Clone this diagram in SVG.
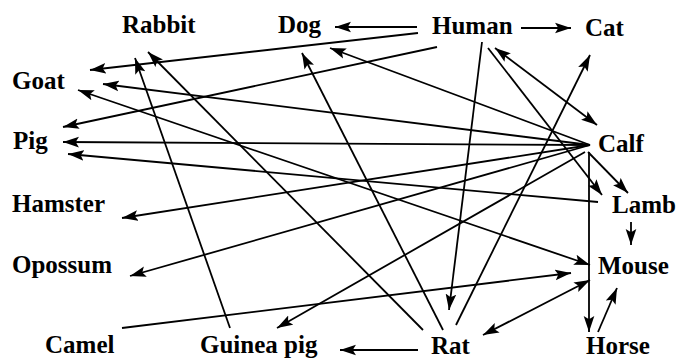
<svg xmlns="http://www.w3.org/2000/svg" width="678" height="360" viewBox="0 0 678 360">
<defs>
<marker id="ah" markerUnits="userSpaceOnUse" markerWidth="17" markerHeight="12" refX="15" refY="5" orient="auto-start-reverse" viewBox="0 0 16 10">
<path d="M0,0 L15,5 L0,10 L3,5 z" fill="#000"/>
</marker>
</defs>
<style>
.lbl{font-family:"Liberation Serif","Times New Roman",serif;font-weight:bold;font-size:25px;fill:#000}
.e{stroke:#000;stroke-width:1.8;fill:none;marker-end:url(#ah)}
.d{marker-start:url(#ah)}
</style>
<rect width="678" height="360" fill="#fff"/>
<g id="connectors">
<line class="e" x1="417" y1="27" x2="335" y2="27"/>
<line class="e" x1="521" y1="28" x2="571" y2="28"/>
<line class="e" x1="418" y1="33" x2="90" y2="70"/>
<line class="e" x1="437" y1="47" x2="63" y2="127"/>
<line class="e" x1="590" y1="145" x2="330" y2="48"/>
<line class="e d" x1="495" y1="48" x2="597" y2="125"/>
<line class="e" x1="482" y1="42" x2="449" y2="310"/>
<line class="e" x1="488" y1="48" x2="602" y2="195"/>
<line class="e" x1="588" y1="152" x2="628" y2="193"/>
<line class="e" x1="589" y1="152" x2="589" y2="332"/>
<line class="e" x1="590" y1="145" x2="103" y2="84"/>
<line class="e" x1="590" y1="145" x2="63" y2="142"/>
<line class="e" x1="598" y1="202" x2="68" y2="154"/>
<line class="e" x1="590" y1="145" x2="122" y2="218"/>
<line class="e" x1="590" y1="145" x2="130" y2="276"/>
<line class="e" x1="585" y1="152" x2="277" y2="328"/>
<line class="e d" x1="78" y1="90" x2="590" y2="265"/>
<line class="e" x1="423" y1="330" x2="148" y2="52"/>
<line class="e" x1="230" y1="328" x2="135" y2="58"/>
<line class="e" x1="443" y1="330" x2="302" y2="53"/>
<line class="e" x1="456" y1="325" x2="590" y2="55"/>
<line class="e" x1="122" y1="328" x2="571" y2="273"/>
<line class="e d" x1="483" y1="335" x2="590" y2="280"/>
<line class="e" x1="631" y1="222" x2="631" y2="245"/>
<line class="e" x1="598" y1="332" x2="617" y2="288"/>
<line class="e" x1="418" y1="350" x2="340" y2="350"/>
</g>
<g id="n-rabbit"><text class="lbl" x="122" y="33">Rabbit</text></g>
<g id="n-dog"><text class="lbl" x="278" y="33">Dog</text></g>
<g id="n-human"><text class="lbl" x="432" y="34">Human</text></g>
<g id="n-cat"><text class="lbl" x="585" y="36">Cat</text></g>
<g id="n-goat"><text class="lbl" x="12" y="89">Goat</text></g>
<g id="n-pig"><text class="lbl" x="13" y="149">Pig</text></g>
<g id="n-calf"><text class="lbl" x="598" y="152">Calf</text></g>
<g id="n-hamster"><text class="lbl" x="12" y="212">Hamster</text></g>
<g id="n-lamb"><text class="lbl" x="612" y="213">Lamb</text></g>
<g id="n-opossum"><text class="lbl" x="12" y="273">Opossum</text></g>
<g id="n-mouse"><text class="lbl" x="598" y="274">Mouse</text></g>
<g id="n-camel"><text class="lbl" x="45" y="353">Camel</text></g>
<g id="n-guineapig"><text class="lbl" x="200" y="353">Guinea pig</text></g>
<g id="n-rat"><text class="lbl" x="431" y="354">Rat</text></g>
<g id="n-horse"><text class="lbl" x="586" y="354">Horse</text></g>
</svg>
